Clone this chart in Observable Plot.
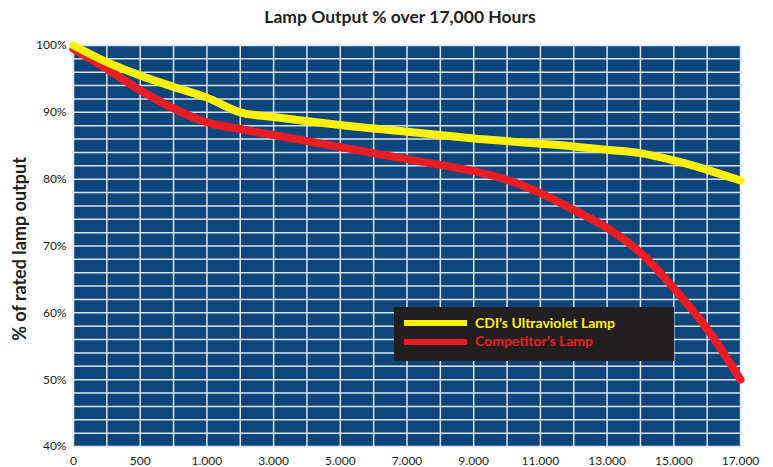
<!DOCTYPE html>
<html><head><meta charset="utf-8">
<script src="https://cdn.jsdelivr.net/npm/d3@7"></script>
<script src="https://cdn.jsdelivr.net/npm/@observablehq/plot@0.6"></script>
<style>
body{margin:0;background:#fff;font-family:Lato,"Open Sans",sans-serif}
#wrap{position:relative;width:773px;height:467px;overflow:hidden}
#title{position:absolute;top:6px;left:0;width:800px;text-align:center;font-weight:bold;font-size:17.5px;color:#231f20}
#legend{position:absolute;left:394px;top:307px;width:280px;height:54px;background:#231f20}
.lg{position:absolute;left:10px;width:63px;height:6px}
.lt{position:absolute;left:81px;font-weight:bold;font-size:14px;line-height:16px}
</style></head>
<body>
<div id="wrap">
<div id="title">Lamp Output % over 17,000 Hours</div>
<div id="chart"></div>
<div id="legend">
  <div class="lg" style="top:13px;background:#fff200"></div>
  <div class="lt" style="top:8px;color:#fff200">CDI’s Ultraviolet Lamp</div>
  <div class="lg" style="top:32px;background:#ed1c24"></div>
  <div class="lt" style="top:26px;color:#ed1c24">Competitor’s Lamp</div>
</div>
</div>
<script>
const hours = [0,250,500,750,1000,2000,3000,5000,7000,9000,10000,11000,12000,13000,14000,15000,16000,17000];
const cdiLamp = [100,97.5,95.5,93.8,92.2,90,89.3,88.1,87.1,86.1,85.7,85.3,84.9,84.4,83.9,82.8,81.4,79.8];
const competitorLamp = [99.5,96.5,93.3,90.6,88.5,87.5,86.6,84.8,83,81.2,79.9,77.9,75.4,72.7,69,63.7,57.6,50];
const tickHours = [0,500,1000,3000,5000,7000,9000,11000,13000,15000,17000];
const tickLabels = ["0","500","1.000","3.000","5.000","7.000","9.000","11.000","13.000","15.000","17.000"];
const gridHours = [0,250,500,750,1000,2000,3000,4000,5000,6000,7000,8000,9000,10000,11000,12000,13000,14000,15000,16000,17000];
const yTicks = [40,50,60,70,80,90,100];
const yGrid = d3.range(40,101,2);

// category-like hour axis: 0, 500, 1000 then steps of 2000 per label
const idx = d3.scaleLinear().domain([0,500,1000,17000]).range([0,1,2,10]);

const cdi = hours.map((h,i)=>({h, v: cdiLamp[i]}));
const comp = hours.map((h,i)=>({h, v: competitorLamp[i]}));

const chart = Plot.plot({
  width: 773, height: 467,
  marginTop: 45, marginBottom: 21, marginLeft: 73, marginRight: 33,
  style: {fontFamily: "Lato, 'Open Sans', sans-serif", fontSize: "12px", color: "#231f20", background: "transparent"},
  x: {type: "linear", domain: [0,10]},
  y: {domain: [40,100]},
  marks: [
    Plot.frame({fill: "#0e467b", stroke: null}),
    Plot.ruleY(yGrid, {y: d=>d, stroke: "#dbe3ee", strokeWidth: 1.5}),
    Plot.ruleX(gridHours, {x: d=>idx(d), stroke: "#dbe3ee", strokeWidth: 1.5}),
    Plot.axisX(tickHours.map(idx), {tickSize: 0, tickPadding: 10, tickFormat: (d,i)=>tickLabels[i], fontSize: 12, label: null}),
    Plot.axisY(yTicks, {tickSize: 0, tickPadding: 7, tickFormat: d=>d+"%", fontSize: 12, label: null}),
    Plot.text(["% of rated lamp output"], {frameAnchor: "left", textAnchor: "middle", text: d=>d, rotate: -90, dx: -53, dy: 3, fontWeight: "bold", fontSize: 18, fill: "#231f20"}),
    Plot.line(comp, {x: d=>idx(d.h), y: "v", stroke: "#ed1c24", strokeWidth: 8, curve: "catmull-rom", strokeLinecap: "round", clip: false}),
    Plot.line(cdi, {x: d=>idx(d.h), y: "v", stroke: "#fff200", strokeWidth: 8, curve: "catmull-rom", strokeLinecap: "round", clip: false})
  ]
});
document.getElementById("chart").appendChild(chart);
</script>
</body></html>
